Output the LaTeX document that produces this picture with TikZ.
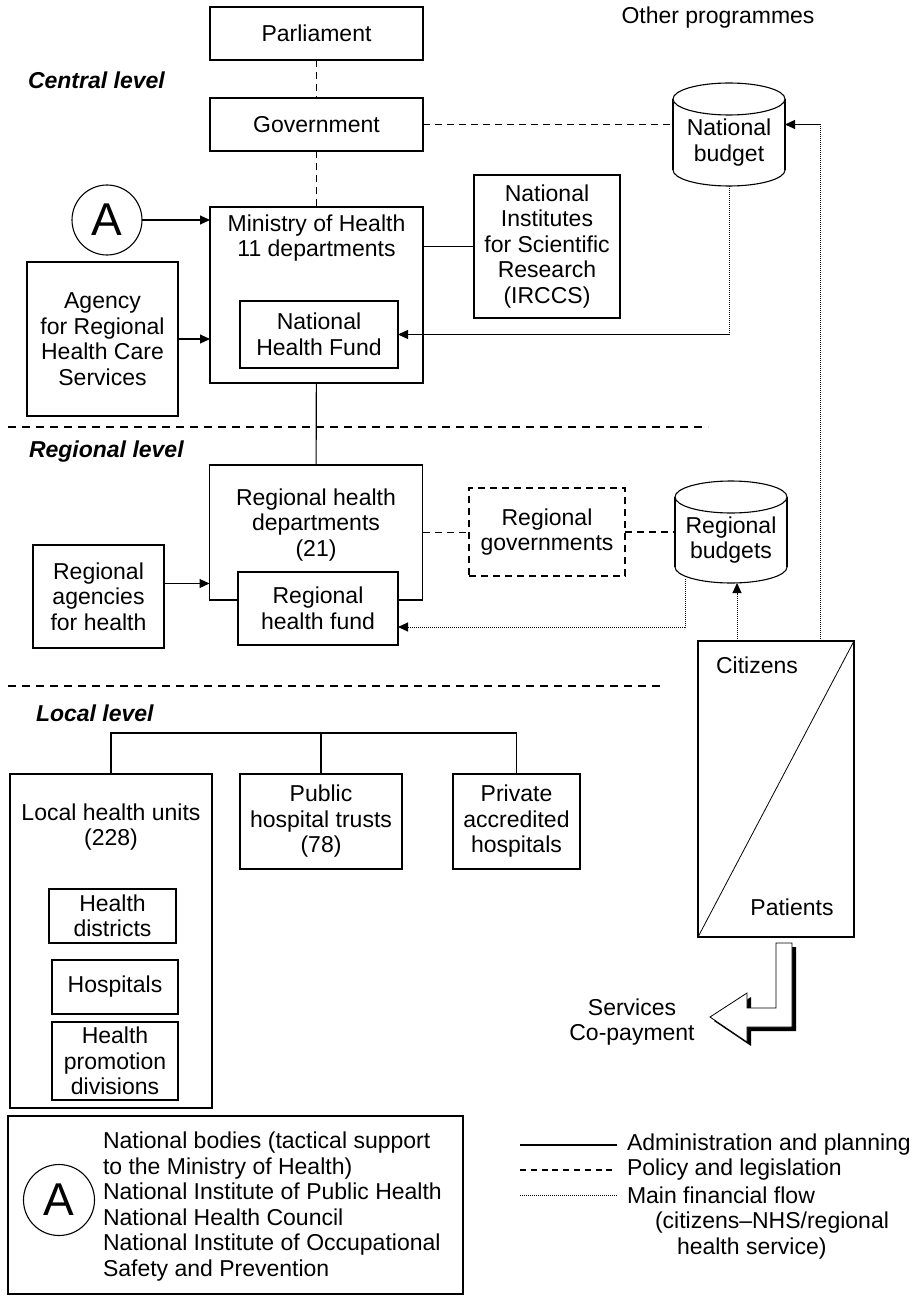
\documentclass[tikz,border=0pt]{standalone}
\usepackage{fontspec}
\setmainfont{Liberation Sans}
\usetikzlibrary{arrows.meta}

\newcommand{\diagfont}{\fontsize{23}{25.5}\selectfont}

\tikzset{
  box/.style={draw, line width=1.1pt, inner sep=0pt, outer sep=0pt, align=center},
  dashbox/.style={box, dash pattern=on 7pt off 5pt},
  txt/.style={draw=none, inner sep=0pt, outer sep=0pt, align=center},
  levelname/.style={txt, font=\diagfont\bfseries\itshape},
  admin/.style={line width=1.1pt},
  policy/.style={line width=1.1pt, dash pattern=on 7pt off 5pt},
  legpolicy/.style={line width=1.1pt, dash pattern=on 6pt off 4.8pt},
  money/.style={line width=1pt, dash pattern=on 1.2pt off 0.8pt},
  flowtip/.style={-{Triangle[length=10pt,width=9pt]}},
}

\begin{document}
\begin{tikzpicture}[x=1pt, y=-1pt, font=\diagfont]

\useasboundingbox (0,0) rectangle (921,1297);

% Level headings
\node[levelname, anchor=west] (central) at (28,80) {Central level};
\node[levelname, anchor=west] (regional) at (29,452) {Regional level};
\node[levelname, anchor=west] (local) at (36,713) {Local level};
\node[txt] (other) at (718,18) {Other programmes};

% Level separators
\draw[policy, dash pattern=on 8pt off 6pt] (8,427) -- (708,427);
\draw[policy, dash pattern=on 8pt off 6pt] (8,686) -- (665,686);

% Budgets (cylinders)
\foreach \cx/\cy/\h in {729/99/71, 731/497/70} {
  \draw[admin] (\cx,\cy+\h) ellipse [x radius=56, y radius=16];
  \fill[white] (\cx-56,\cy) rectangle (\cx+56,\cy+\h);
  \draw[admin] (\cx-56,\cy) -- (\cx-56,\cy+\h) (\cx+56,\cy) -- (\cx+56,\cy+\h);
  \draw[admin, fill=white] (\cx,\cy) ellipse [x radius=56, y radius=16];
}
\node[txt, minimum width=112, minimum height=87] (natbudget) at (729,142.5) {National\\budget};
\node[txt, minimum width=112, minimum height=86] (regbudget) at (731,540) {Regional\\budgets};

% Central level
\node[box, minimum width=213, minimum height=53] (parl) at (316.5,33.5) {Parliament};
\node[box, minimum width=213, minimum height=53] (gov) at (316.5,124.5) {Government};
\node[box, minimum width=213, minimum height=176,
      label={[txt, name=mintxt, anchor=north, yshift=-7.5pt]north:{Ministry of Health\\11 departments}}]
      (ministry) at (316.5,295) {};
\node[box, minimum width=158, minimum height=67] (nhf) at (319,334.5) {National\\Health Fund};
\node[box, circle, minimum size=70, font=\fontsize{46}{46}\selectfont] (acirc) at (107,220) {A};
\node[box, minimum width=151, minimum height=154] (agency) at (102.5,339) {Agency\\for Regional\\Health Care\\Services};
\node[box, minimum width=146, minimum height=143] (nisr) at (547,246.5) {National\\Institutes\\for Scientific\\Research\\(IRCCS)};

\draw[policy] (parl) -- (gov);
\draw[policy] (gov) -- (ministry);
\draw[policy] (gov.east) -- (gov.east -| natbudget.west);
\draw[admin, flowtip] (acirc.east) -- (acirc.east -| ministry.west);
\draw[admin, flowtip] (agency.east) -- (agency.east -| ministry.west);
\draw[admin] (ministry.east |- nisr.west) -- (nisr.west);
\draw[money, flowtip] (natbudget.south) |- (nhf.east);

% Regional level
\node[box, minimum width=213, minimum height=135,
      label={[txt, name=rhdtxt, anchor=north, yshift=-23.5pt]north:{Regional health\\departments\\(21)}}]
      (rhd) at (316,532.5) {};
\node[box, fill=white, minimum width=160, minimum height=73] (rhf) at (318,608.5) {Regional\\health fund};
\node[box, minimum width=131, minimum height=103] (regag) at (98.5,596.5) {Regional\\agencies\\for health};
\node[dashbox, minimum width=156, minimum height=88] (reggov) at (547,532) {Regional\\governments};

\draw[admin] (ministry) -- (rhd);
\draw[admin, flowtip] ([yshift=13pt]regag.east) -- ([yshift=13pt]regag.east -| rhd.west);
\draw[policy] (rhd.east) -- (rhd.east -| reggov.west);
\draw[policy] (reggov.east) -- (reggov.east -| regbudget.west);
\coordinate (rbfoot) at (685,579);
\draw[money, flowtip] (rbfoot) |- ([yshift=-18.5pt]rhf.east);

% Citizens / Patients
\node[box, minimum width=156, minimum height=296] (citizens) at (776,789) {};
\draw[line width=0.8pt] (citizens.south west) -- (citizens.north east);
\node[txt] (citz) at (757,665) {Citizens};
\node[txt] (pats) at (792,907) {Patients};
\draw[money, flowtip] (citizens.north -| 737,0) -- (regbudget.south -| 737,0);
\draw[money, flowtip] (citizens.north -| 820,0) |- (natbudget.east |- gov.east);

% Services arrow (with shadow)
\fill[black] (780,947) -- (796,947) -- (796,1031) -- (751,1031) -- (751,1046) -- (714,1021)
  -- (751,997) -- (751,1012) -- (780,1012) -- cycle;
\draw[line width=0.8pt, fill=white] (776,943) -- (792,943) -- (792,1027) -- (747,1027) -- (747,1042)
  -- (710,1017) -- (747,993) -- (747,1008) -- (776,1008) -- cycle;
\node[txt] (services) at (632,1022) {Services\\Co-payment};

% Local level
\node[box, minimum width=202, minimum height=334,
      label={[txt, name=lhutxt, anchor=north, yshift=-29.5pt]north:{Local health units\\(228)}}]
      (lhu) at (111,941) {};
\node[box, minimum width=127, minimum height=54] (hdist) at (112.5,916) {Health\\districts};
\node[box, minimum width=126, minimum height=54] (hosp) at (115,987) {Hospitals};
\node[box, minimum width=126, minimum height=78] (hprom) at (115,1061) {Health\\promotion\\divisions};
\node[box, minimum width=162, minimum height=95] (pht) at (321,821.5) {Public\\hospital trusts\\(78)};
\node[box, minimum width=127, minimum height=95] (pah) at (516.5,821.5) {Private\\accredited\\hospitals};

\coordinate (fork) at (321,733);
\draw[admin] (lhu.north) |- (fork) -| (pah.north);
\draw[admin] (fork) -- (pht.north);

% Legend box
\node[box, minimum width=455, minimum height=178] (legend) at (235.5,1205) {};
\node[box, circle, minimum size=71, font=\fontsize{46}{46}\selectfont] (legA) at (59,1200) {A};
\node[txt, align=left, anchor=west] (legtxt) at (103,1206.5) {National bodies (tactical support\\to the Ministry of Health)\\National Institute of Public Health\\National Health Council\\National Institute of Occupational\\Safety and Prevention};

% Legend lines
\foreach \n/\y/\s in {adm/1145/admin, pol/1170/legpolicy, fin/1195/money}
  \draw[\s] (520,\y) coordinate (\n-l) -- (617,\y) coordinate (\n-r);

\node[txt, anchor=west] (admtxt) at ([xshift=10pt]adm-r) {Administration and planning};
\node[txt, anchor=west] (poltxt) at ([xshift=10pt]pol-r) {Policy and legislation};
\node[txt, anchor=north west, align=left] (fintxt) at ([xshift=10pt, yshift=8.5pt]fin-r)
  {Main financial flow\\\hspace*{28pt}(citizens–NHS/regional\\\hspace*{50pt}health service)};

\end{tikzpicture}
\end{document}
